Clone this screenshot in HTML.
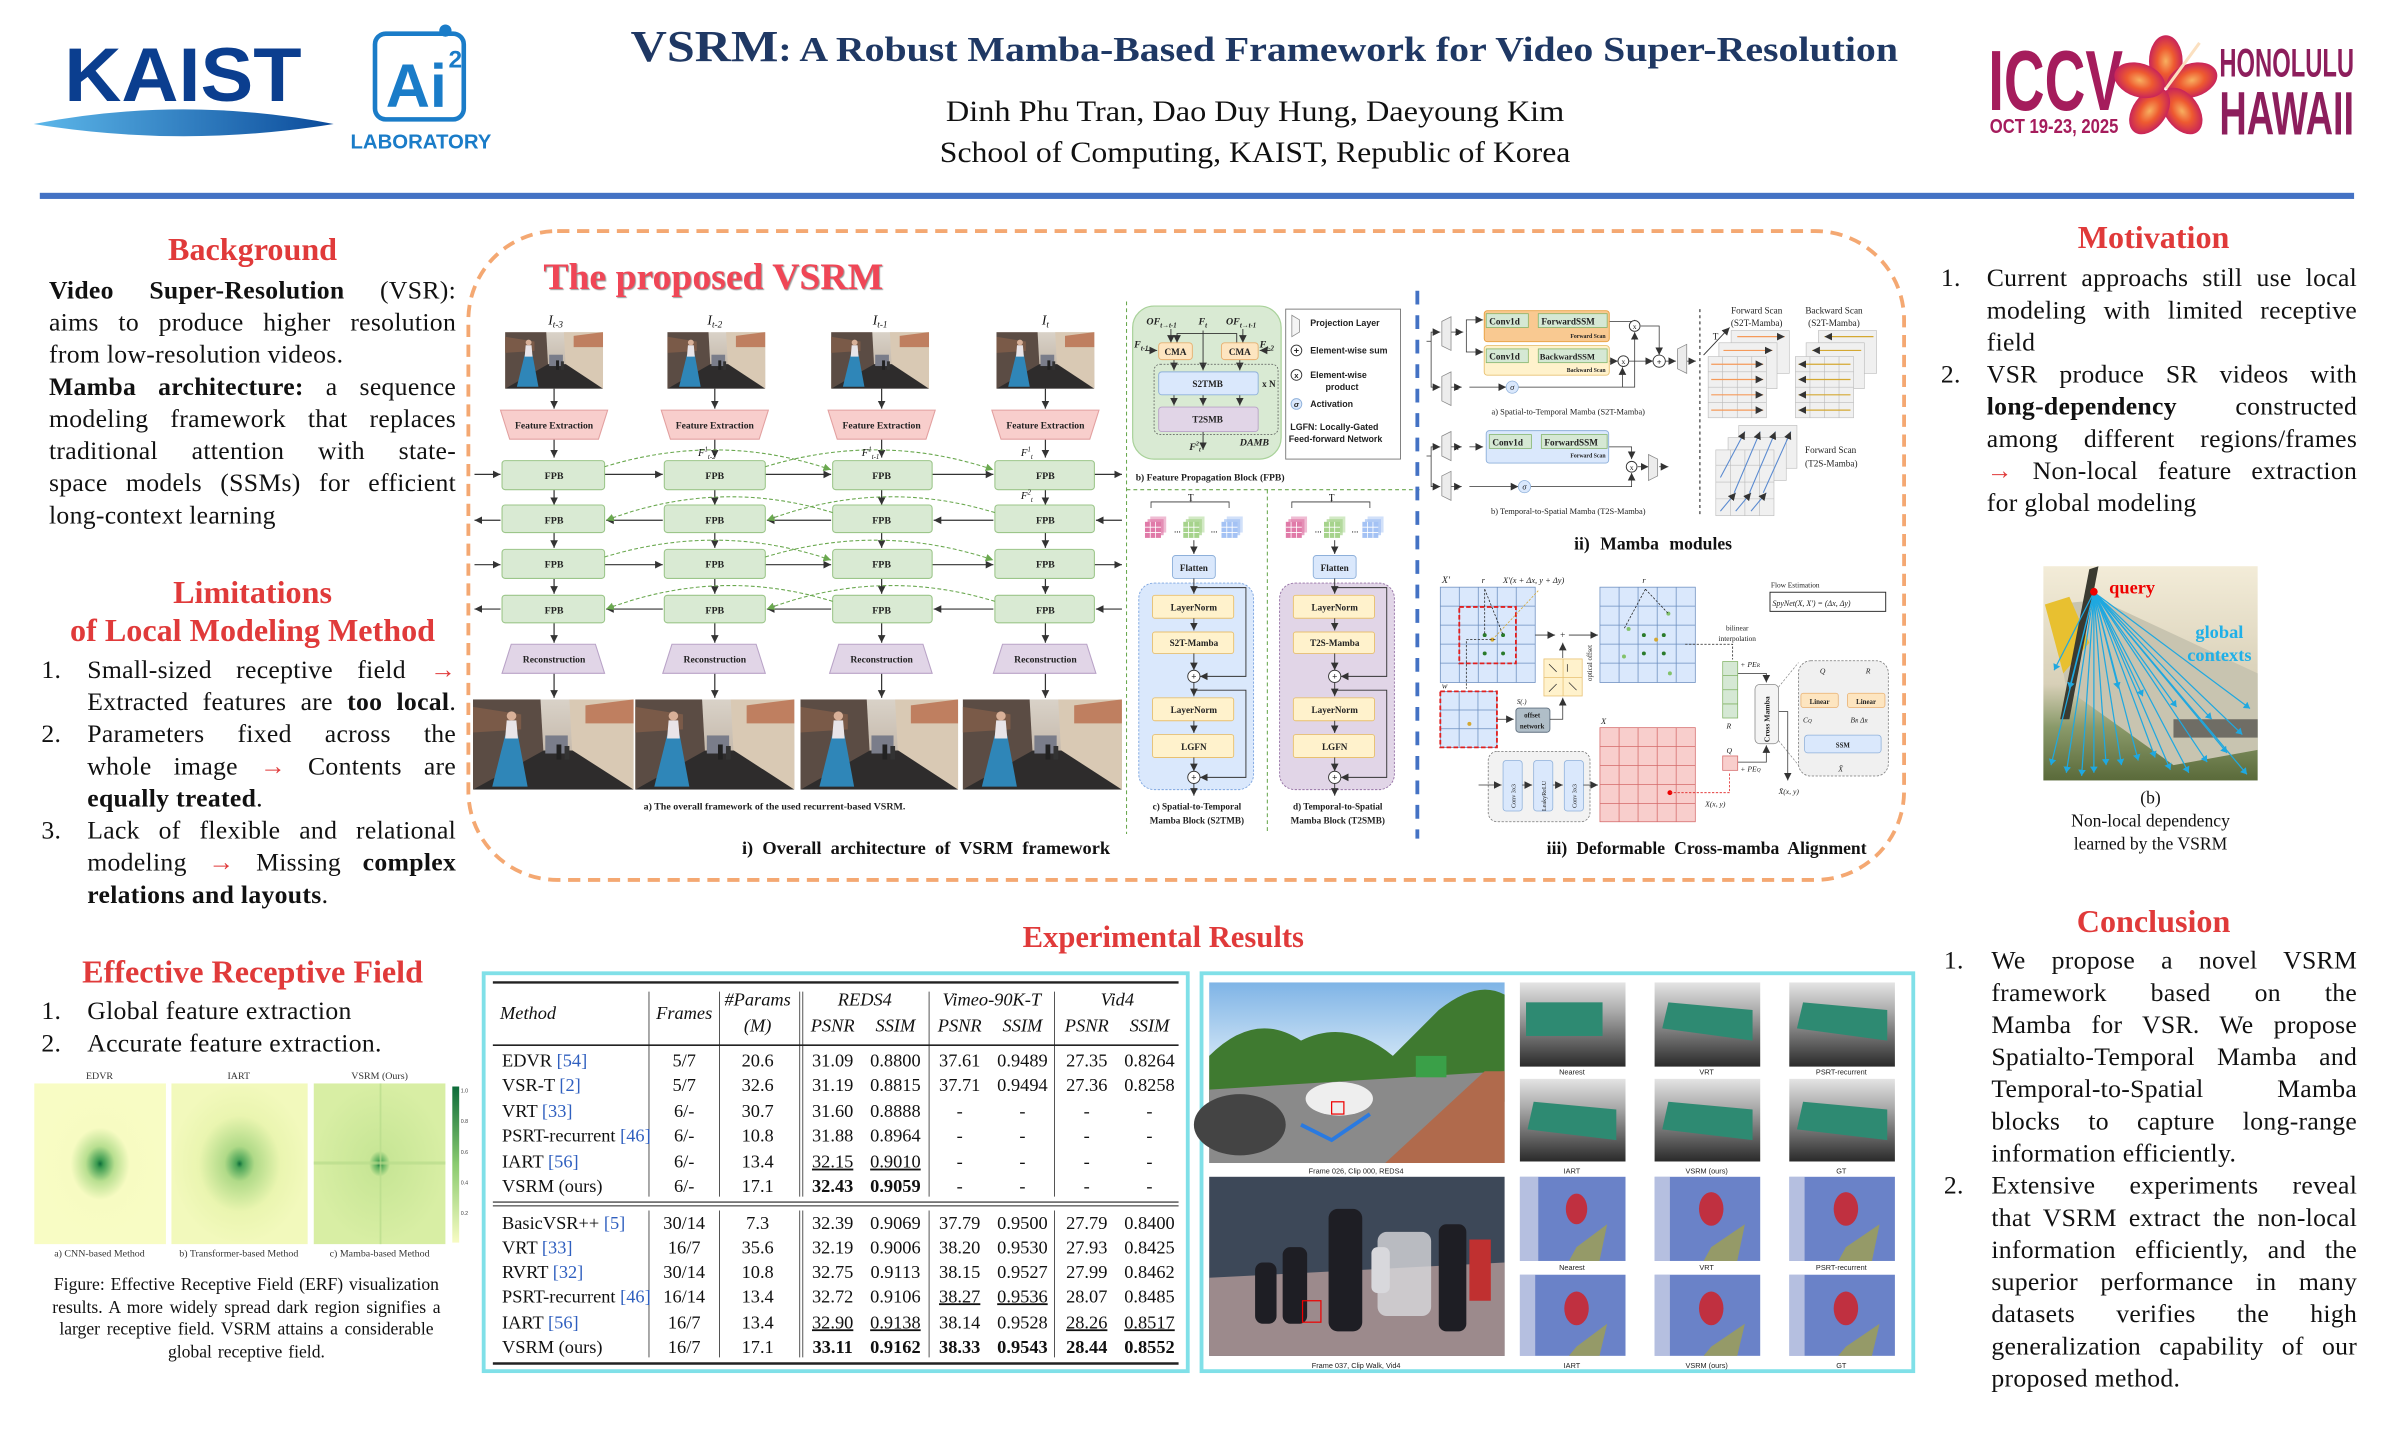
<!DOCTYPE html>
<html><head><meta charset="utf-8"><style>
html,body{margin:0;padding:0;background:#fff;width:2400px;height:1440px;overflow:hidden}
#r{position:absolute;left:0;top:0;width:1568px;height:941px;transform:scale(1.530612,1.530287);transform-origin:0 0}
svg{display:block;position:absolute;left:0;top:0}
.s{font-family:"Liberation Serif",serif}
.a{font-family:"Liberation Sans",sans-serif}
.col{position:absolute;font:16.8px/21px "Liberation Serif",serif;color:#111;letter-spacing:0.2px}
.col div{white-space:nowrap;height:21px}
.j{text-align:justify;text-align-last:justify}
.n{position:absolute;left:-30px}
.red{color:#e03a3a}
</style></head><body><div id="r">
<svg width="1568" height="941" viewBox="0 0 1568 941" xmlns="http://www.w3.org/2000/svg">
<defs>
<marker id="ar" markerWidth="6" markerHeight="6" refX="5" refY="3" orient="auto" markerUnits="userSpaceOnUse"><path d="M0,0.5 L5,3 L0,5.5z" fill="#333"/></marker>
<marker id="ag" markerWidth="6" markerHeight="6" refX="5" refY="3" orient="auto" markerUnits="userSpaceOnUse"><path d="M0,0.5 L5,3 L0,5.5z" fill="#6aa84f"/></marker>
<marker id="ab" markerWidth="5" markerHeight="5" refX="4" refY="2.5" orient="auto" markerUnits="userSpaceOnUse"><path d="M0,0 L4,2.5 L0,5z" fill="#1fa8e0"/></marker>
<linearGradient id="lens" x1="0" x2="1"><stop offset="0" stop-color="#5db8ea"/><stop offset="1" stop-color="#0a4a9a"/></linearGradient>
<radialGradient id="hib" cx="0.5" cy="0.5" r="0.5"><stop offset="0" stop-color="#f7b060"/><stop offset="0.5" stop-color="#ee5a30"/><stop offset="1" stop-color="#c8245a"/></radialGradient>
<linearGradient id="skyA" x1="0" y1="0" x2="0" y2="1"><stop offset="0" stop-color="#d9d2c8"/><stop offset="1" stop-color="#b7a898"/></linearGradient>
<radialGradient id="erf1" cx="0.5" cy="0.5" r="0.5"><stop offset="0" stop-color="#0d6b3a"/><stop offset="0.05" stop-color="#3a9a50"/><stop offset="0.22" stop-color="#b8df90"/><stop offset="0.45" stop-color="#f7fbc2"/><stop offset="1" stop-color="#f8fcc4"/></radialGradient>
<radialGradient id="erf2" cx="0.5" cy="0.5" r="0.5"><stop offset="0" stop-color="#0d6b3a"/><stop offset="0.05" stop-color="#4aa458"/><stop offset="0.22" stop-color="#b0da88"/><stop offset="0.6" stop-color="#eaf5b0"/><stop offset="1" stop-color="#f2f9bc"/></radialGradient>
<radialGradient id="erf3" cx="0.5" cy="0.5" r="0.5"><stop offset="0" stop-color="#0d6b3a"/><stop offset="0.05" stop-color="#5aaf5c"/><stop offset="0.16" stop-color="#c8e696"/><stop offset="1" stop-color="#d8eea4"/></radialGradient>
<linearGradient id="cbar" x1="0" y1="1" x2="0" y2="0"><stop offset="0" stop-color="#f7fbc2"/><stop offset="0.5" stop-color="#8bcb70"/><stop offset="1" stop-color="#0d6b3a"/></linearGradient>
<linearGradient id="plane" x1="0" y1="0" x2="0" y2="1"><stop offset="0" stop-color="#f3ecd8"/><stop offset="0.55" stop-color="#d8d0b8"/><stop offset="0.75" stop-color="#8a9a6a"/><stop offset="1" stop-color="#5a6a3a"/></linearGradient>
<linearGradient id="sky1" x1="0" y1="0" x2="0" y2="1"><stop offset="0" stop-color="#7fb4e6"/><stop offset="0.5" stop-color="#dcecf8"/><stop offset="1" stop-color="#c8d8e0"/></linearGradient>
<linearGradient id="plt" x1="0" y1="0" x2="0" y2="1"><stop offset="0" stop-color="#e4e4e4"/><stop offset="0.35" stop-color="#a9a9a9"/><stop offset="1" stop-color="#2a2a2a"/></linearGradient>
<symbol id="alley" viewBox="0 0 100 60" preserveAspectRatio="none">
<rect width="100" height="60" fill="url(#skyA)"/>
<polygon points="0,0 42,0 44,38 0,60" fill="#5b4c44"/>
<polygon points="0,5 30,10 30,20 0,22" fill="#7a5a48"/>
<polygon points="60,0 100,0 100,60 62,40" fill="#d9c9b4"/>
<polygon points="70,4 100,0 100,16 70,16" fill="#b4603c" opacity="0.7"/>
<polygon points="44,34 62,34 100,60 0,60" fill="#2e2c2c"/>
<rect x="45" y="24" width="14" height="12" fill="#7a7d8a"/>
<polygon points="20,24 28,24 34,58 12,58" fill="#2f86b8"/>
<polygon points="21,14 27,14 28,26 20,26" fill="#e8e4e8"/>
<circle cx="24" cy="11" r="3" fill="#d8b098"/>
<rect x="52" y="30" width="3" height="10" fill="#222"/><rect x="57" y="31" width="3" height="9" fill="#333"/>
</symbol>
<symbol id="cube" viewBox="0 0 16 16"><rect x="4" y="0" width="12" height="12" fill="currentColor" opacity="0.5"/><rect x="2" y="2" width="12" height="12" fill="currentColor" opacity="0.7"/><rect x="0" y="4" width="12" height="12" fill="currentColor"/><path d="M4,4V16M8,4V16M0,8H12M0,12H12" stroke="#fff" stroke-width="0.6"/></symbol>
</defs>

<!-- HEADER -->
<text x="42" y="66" class="a" font-size="50" font-weight="bold" fill="#0b3e8f" textLength="155" lengthAdjust="spacingAndGlyphs">KAIST</text>
<path d="M22,81 Q120,62 218,81 Q120,97 22,81z" fill="url(#lens)"/>
<rect x="245" y="22" width="58" height="56" rx="7" fill="none" stroke="#1a7cc8" stroke-width="3"/>
<circle cx="291" cy="20" r="4" fill="#1a7cc8"/>
<text x="252" y="70" class="a" font-size="40" font-weight="bold" fill="#1a7cc8">Ai</text>
<text x="293" y="44" class="a" font-size="16" font-weight="bold" fill="#1a7cc8">2</text>
<text x="229" y="97" class="a" font-size="13" font-weight="bold" fill="#1a7cc8" textLength="92" lengthAdjust="spacingAndGlyphs">LABORATORY</text>

<text x="412" y="40" class="s" font-weight="bold" fill="#1f3864" textLength="828" lengthAdjust="spacingAndGlyphs"><tspan font-size="29">VSRM</tspan><tspan font-size="23">: A Robust Mamba-Based Framework for Video Super-Resolution</tspan></text>
<text x="618" y="79" class="s" font-size="19" fill="#111" textLength="404" lengthAdjust="spacingAndGlyphs">Dinh Phu Tran, Dao Duy Hung, Daeyoung Kim</text>
<text x="614" y="106" class="s" font-size="19" fill="#111" textLength="412" lengthAdjust="spacingAndGlyphs">School of Computing, KAIST, Republic of Korea</text>

<text x="1299" y="72" class="a" font-size="56" font-weight="bold" fill="#a51c5c" textLength="88" lengthAdjust="spacingAndGlyphs">ICCV</text>
<text x="1300" y="87" class="a" font-size="13" font-weight="bold" fill="#a51c5c" textLength="84" lengthAdjust="spacingAndGlyphs">OCT 19-23, 2025</text>
<g transform="translate(1415,58)">
<ellipse cx="0" cy="-18" rx="11" ry="17" fill="url(#hib)"/>
<ellipse cx="0" cy="-18" rx="11" ry="17" fill="url(#hib)" transform="rotate(72)"/>
<ellipse cx="0" cy="-18" rx="11" ry="17" fill="url(#hib)" transform="rotate(144)"/>
<ellipse cx="0" cy="-18" rx="11" ry="17" fill="url(#hib)" transform="rotate(216)"/>
<ellipse cx="0" cy="-18" rx="11" ry="17" fill="url(#hib)" transform="rotate(288)"/>
<path d="M0,0 L22,-30" stroke="#fbe0c0" stroke-width="2"/>
</g>
<text x="1450" y="50" class="a" font-size="26" font-weight="bold" fill="#8d1e5c" textLength="88" lengthAdjust="spacingAndGlyphs">HONOLULU</text>
<text x="1450" y="88" class="a" font-size="40" font-weight="bold" fill="#8d1e5c" textLength="88" lengthAdjust="spacingAndGlyphs">HAWAII</text>

<rect x="26" y="126" width="1512" height="4" fill="#4472c4"/>

<g class="s" font-size="21" font-weight="bold" fill="#e03a3a" text-anchor="middle">
<text x="165" y="170">Background</text>
<text x="165" y="394">Limitations</text>
<text x="165" y="419">of Local Modeling  Method</text>
<text x="165" y="642">Effective Receptive Field</text>
<text x="1407" y="162">Motivation</text>
<text x="1407" y="609">Conclusion</text>
</g>

<!-- ERF -->
<g class="s" font-size="6.5" fill="#333" text-anchor="middle">
<text x="65" y="705">EDVR</text><text x="156" y="705">IART</text><text x="248" y="705">VSRM (Ours)</text>
<text x="65" y="821">a) CNN-based Method</text><text x="156" y="821">b) Transformer-based Method</text><text x="248" y="821">c) Mamba-based Method</text>
</g>
<rect x="22.4" y="708" width="86" height="105" fill="url(#erf1)"/>
<rect x="112" y="708" width="89" height="105" fill="url(#erf2)"/>
<rect x="205" y="708" width="86" height="105" fill="url(#erf3)"/>
<rect x="248" y="708" width="1.2" height="105" fill="#b8dc8c" opacity="0.7"/><rect x="205" y="759" width="86" height="2" fill="#b8dc8c" opacity="0.7"/>
<rect x="295.5" y="710" width="4.5" height="102" fill="url(#cbar)"/>
<g class="a" font-size="3.5" fill="#444"><text x="301" y="714">1.0</text><text x="301" y="734">0.8</text><text x="301" y="754">0.6</text><text x="301" y="774">0.4</text><text x="301" y="794">0.2</text></g>
<g class="s" font-size="11.5" fill="#111" text-anchor="middle">
<text x="161" y="843" word-spacing="1">Figure: Effective Receptive Field (ERF) visualization</text>
<text x="161" y="858" word-spacing="1.5">results. A more widely  spread dark region signifies  a</text>
<text x="161" y="872" word-spacing="1.5">larger receptive field. VSRM attains a considerable</text>
<text x="161" y="887" word-spacing="1">global receptive field.</text>
</g>

<!-- plane image -->
<rect x="1335" y="370" width="140" height="140" fill="url(#plane)"/>
<polygon points="1340,395 1372,392 1475,440 1475,490 1420,500 1350,450" fill="#c8c4b0"/>
<polygon points="1336,395 1352,390 1365,420 1348,440" fill="#e8c030"/>
<polygon points="1365,372 1371,370 1352,470 1346,470" fill="#3a3a30"/>
<rect x="1420" y="470" width="55" height="12" fill="#333" opacity="0.6"/>
<g stroke="#1fa8e0" stroke-width="0.8" marker-end="url(#ab)">
<path d="M1368,387 L1342,438"/><path d="M1368,387 L1352,450"/><path d="M1368,387 L1340,500"/><path d="M1368,387 L1350,505"/><path d="M1368,387 L1360,507"/><path d="M1368,387 L1368,505"/><path d="M1368,387 L1376,500"/><path d="M1368,387 L1386,500"/><path d="M1368,387 L1397,497"/><path d="M1368,387 L1408,495"/><path d="M1368,387 L1418,503"/><path d="M1368,387 L1430,505"/><path d="M1368,387 L1442,498"/><path d="M1368,387 L1455,492"/><path d="M1368,387 L1465,480"/><path d="M1368,387 L1468,506"/><path d="M1368,387 L1470,463"/><path d="M1368,387 L1445,470"/><path d="M1368,387 L1422,462"/><path d="M1368,387 L1400,455"/><path d="M1368,387 L1384,450"/>
</g>
<circle cx="1368" cy="386.7" r="2.5" fill="#e00"/>
<text x="1378" y="388" class="s" font-size="12" font-weight="bold" fill="#e00">query</text>
<text x="1450" y="417" class="s" font-size="12" font-weight="bold" fill="#1fb0e8" text-anchor="middle">global</text>
<text x="1450" y="432" class="s" font-size="12" font-weight="bold" fill="#1fb0e8" text-anchor="middle">contexts</text>
<g class="s" font-size="11.5" fill="#111" text-anchor="middle"><text x="1405" y="525">(b)</text><text x="1405" y="540">Non-local dependency</text><text x="1405" y="555">learned by the VSRM</text></g>

<!-- CENTER BOX -->
<rect x="306" y="151" width="938" height="424" rx="58" fill="none" stroke="#f4a872" stroke-width="2.5" stroke-dasharray="8,5"/>
<text x="355" y="189" class="s" font-size="24" font-weight="bold" fill="#f04656" textLength="222" lengthAdjust="spacingAndGlyphs" style="text-shadow:1px 1px 1px #999">The proposed VSRM</text>

<g class="s" font-style="italic" font-size="9" fill="#111" text-anchor="middle">
<text x="363" y="212">I<tspan font-size="6" dy="2">t-3</tspan></text>
<text x="467" y="212">I<tspan font-size="6" dy="2">t-2</tspan></text>
<text x="575" y="212">I<tspan font-size="6" dy="2">t-1</tspan></text>
<text x="683" y="212">I<tspan font-size="6" dy="2">t</tspan></text>
</g>
<use href="#alley" x="330" y="217" width="64" height="37"/>
<use href="#alley" x="436" y="217" width="64" height="37"/>
<use href="#alley" x="543" y="217" width="64" height="37"/>
<use href="#alley" x="651" y="217" width="64" height="37"/>
<g stroke="#333" stroke-width="0.8" marker-end="url(#ar)" fill="none">
<path d="M362,254V267"/><path d="M467,254V267"/><path d="M576,254V267"/><path d="M683,254V267"/>
<path d="M362,287V299"/><path d="M467,287V299"/><path d="M576,287V299"/><path d="M683,287V299"/>
<path d="M362,320V330"/><path d="M467,320V330"/><path d="M576,320V330"/><path d="M683,320V330"/>
<path d="M362,348V358"/><path d="M467,348V358"/><path d="M576,348V358"/><path d="M683,348V358"/>
<path d="M362,378V388"/><path d="M467,378V388"/><path d="M576,378V388"/><path d="M683,378V388"/>
<path d="M362,407V420"/><path d="M467,407V420"/><path d="M576,407V420"/><path d="M683,407V420"/>
<path d="M362,440V456"/><path d="M467,440V456"/><path d="M576,440V456"/><path d="M683,440V456"/>
<path d="M310,310H327"/><path d="M395,310H433"/><path d="M500,310H543"/><path d="M609,310H649"/><path d="M715,310H733"/>
<path d="M733,340H716"/><path d="M649,340H610"/><path d="M543,340H501"/><path d="M433,340H396"/><path d="M327,340H310"/>
<path d="M310,369H327"/><path d="M395,369H433"/><path d="M500,369H543"/><path d="M609,369H649"/><path d="M715,369H733"/>
<path d="M733,398H716"/><path d="M649,398H610"/><path d="M543,398H501"/><path d="M433,398H396"/><path d="M327,398H310"/>
</g>
<g fill="#f8cecc" stroke="#e2a0a0" stroke-width="0.7">
<polygon points="327,268 397,268 391,287 333,287"/><polygon points="432,268 502,268 496,287 438,287"/><polygon points="541,268 611,268 605,287 547,287"/><polygon points="648,268 718,268 712,287 654,287"/>
</g>
<g class="s" font-size="6.3" font-weight="bold" fill="#222" text-anchor="middle">
<text x="362" y="280">Feature Extraction</text><text x="467" y="280">Feature Extraction</text><text x="576" y="280">Feature Extraction</text><text x="683" y="280">Feature Extraction</text>
</g>
<g fill="#d9ead3" stroke="#9cc68a" stroke-width="0.7">
<rect x="328" y="301" width="67" height="19" rx="2"/><rect x="434" y="301" width="66" height="19" rx="2"/><rect x="544" y="301" width="65" height="19" rx="2"/><rect x="650" y="301" width="65" height="19" rx="2"/>
<rect x="328" y="330" width="67" height="18" rx="2"/><rect x="434" y="330" width="66" height="18" rx="2"/><rect x="544" y="330" width="65" height="18" rx="2"/><rect x="650" y="330" width="65" height="18" rx="2"/>
<rect x="328" y="359" width="67" height="19" rx="2"/><rect x="434" y="359" width="66" height="19" rx="2"/><rect x="544" y="359" width="65" height="19" rx="2"/><rect x="650" y="359" width="65" height="19" rx="2"/>
<rect x="328" y="389" width="67" height="18" rx="2"/><rect x="434" y="389" width="66" height="18" rx="2"/><rect x="544" y="389" width="65" height="18" rx="2"/><rect x="650" y="389" width="65" height="18" rx="2"/>
</g>
<g class="s" font-size="6.5" font-weight="bold" fill="#222" text-anchor="middle">
<text x="362" y="313">FPB</text><text x="467" y="313">FPB</text><text x="576" y="313">FPB</text><text x="683" y="313">FPB</text>
<text x="362" y="342">FPB</text><text x="467" y="342">FPB</text><text x="576" y="342">FPB</text><text x="683" y="342">FPB</text>
<text x="362" y="371">FPB</text><text x="467" y="371">FPB</text><text x="576" y="371">FPB</text><text x="683" y="371">FPB</text>
<text x="362" y="401">FPB</text><text x="467" y="401">FPB</text><text x="576" y="401">FPB</text><text x="683" y="401">FPB</text>
</g>
<g fill="none" stroke="#6aa84f" stroke-width="0.7" stroke-dasharray="2.5,1.5" marker-end="url(#ag)">
<path d="M395,305 Q470,282 543,307"/><path d="M500,305 Q575,282 649,307"/>
<path d="M544,335 Q470,312 396,340"/><path d="M650,335 Q575,312 501,340"/>
<path d="M395,364 Q470,341 543,366"/><path d="M500,364 Q575,341 649,366"/>
<path d="M544,393 Q470,370 396,398"/><path d="M650,393 Q575,370 501,398"/>
</g>
<g class="s" font-style="italic" font-size="7" fill="#111">
<text x="456" y="298">F<tspan font-size="4.5" dy="-3">1</tspan><tspan font-size="4.5" dy="5">t-2</tspan></text>
<text x="563" y="298">F<tspan font-size="4.5" dy="-3">1</tspan><tspan font-size="4.5" dy="5">t-1</tspan></text>
<text x="667" y="298">F<tspan font-size="4.5" dy="-3">1</tspan><tspan font-size="4.5" dy="5">t</tspan></text>
<text x="667" y="326">F<tspan font-size="4.5" dy="-3">2</tspan><tspan font-size="4.5" dy="5">t</tspan></text>
</g>
<g fill="#e1d5e7" stroke="#b9a3c7" stroke-width="0.7">
<polygon points="334,421 389,421 395,440 328,440"/><polygon points="439,421 494,421 500,440 433,440"/><polygon points="548,421 603,421 609,440 542,440"/><polygon points="655,421 710,421 716,440 649,440"/>
</g>
<g class="s" font-size="6.3" font-weight="bold" fill="#222" text-anchor="middle">
<text x="362" y="433">Reconstruction</text><text x="467" y="433">Reconstruction</text><text x="576" y="433">Reconstruction</text><text x="683" y="433">Reconstruction</text>
</g>
<use href="#alley" x="309" y="457" width="105" height="59"/>
<use href="#alley" x="415" y="457" width="104" height="59"/>
<use href="#alley" x="523" y="457" width="103" height="59"/>
<use href="#alley" x="629" y="457" width="104" height="59"/>
<text x="506" y="529" class="s" font-size="6.5" font-weight="bold" fill="#222" text-anchor="middle">a) The overall framework of the used recurrent-based VSRM.</text>
<text x="605" y="558" class="s" font-size="12" font-weight="bold" fill="#111" text-anchor="middle" word-spacing="3">i) Overall architecture of VSRM framework</text>

<!-- FPB panel -->
<path d="M736,197V545M736,320H928M828,320V545" stroke="#6aa84f" stroke-width="0.7" stroke-dasharray="2.5,2" fill="none"/>
<rect x="740" y="200" width="97" height="100" rx="14" fill="#d9ead3" stroke="#a9d29a" stroke-width="0.8"/>
<g stroke="#333" stroke-width="0.6" fill="none" marker-end="url(#ar)">
<path d="M765,215V224"/><path d="M812,215V224"/><path d="M786,216V242"/><path d="M786,218H808V224M786,218H769V224"/>
<path d="M748,229H756"/><path d="M830,229H823"/>
<path d="M767,235V242"/><path d="M810,235V242"/>
<path d="M767,258V265"/><path d="M786,258V265"/><path d="M810,258V265"/><path d="M786,281V294"/>
</g>
<rect x="757" y="224" width="22" height="11" rx="2" fill="#fde5c0" stroke="#e8b070" stroke-width="0.6"/>
<rect x="798" y="224" width="24" height="11" rx="2" fill="#fde5c0" stroke="#e8b070" stroke-width="0.6"/>
<rect x="754" y="238" width="81" height="46" rx="4" fill="none" stroke="#555" stroke-width="0.5" stroke-dasharray="1.2,1"/>
<rect x="757" y="243" width="65" height="15" rx="2" fill="#dae8fc" stroke="#8eb0da" stroke-width="0.6"/>
<rect x="757" y="266" width="65" height="16" rx="2" fill="#e1d5e7" stroke="#b9a3c7" stroke-width="0.6"/>
<g class="s" font-weight="bold" fill="#222" font-size="6" text-anchor="middle">
<text x="768" y="232">CMA</text><text x="810" y="232">CMA</text><text x="789" y="253">S2TMB</text><text x="789" y="276">T2SMB</text><text x="829" y="253">x N</text>
</g>
<g class="s" font-weight="bold" font-style="italic" fill="#222" font-size="6.5">
<text x="749" y="212">OF<tspan font-size="4.5" dy="2">t→t-1</tspan></text><text x="783" y="212">F<tspan font-size="4.5" dy="2">t</tspan></text><text x="801" y="212">OF<tspan font-size="4.5" dy="2">t→t-1</tspan></text>
<text x="741" y="227">F<tspan font-size="4.5" dy="2">t-1</tspan></text><text x="823" y="227">F<tspan font-size="4.5" dy="2">t-2</tspan></text>
<text x="777" y="294">F<tspan font-size="4" dy="-3">2</tspan><tspan font-size="4" dy="4">t</tspan></text><text x="810" y="291">DAMB</text>
</g>
<rect x="840" y="202" width="75" height="98" fill="#fff" stroke="#777" stroke-width="0.6"/>
<polygon points="844,206 849,209 849,217 844,220" fill="#f4f4f4" stroke="#888" stroke-width="0.5"/>
<g fill="#fff" stroke="#333" stroke-width="0.6"><circle cx="847" cy="229" r="3.5"/><circle cx="847" cy="245" r="3.5"/><circle cx="847" cy="264" r="3.5" fill="#dae8fc" stroke="#8eb0da"/></g>
<g class="a" font-size="5.8" font-weight="bold" fill="#222">
<text x="847" y="231" text-anchor="middle" font-size="6">+</text><text x="847" y="247" text-anchor="middle" font-size="5">x</text><text x="847" y="266" text-anchor="middle" font-size="5" font-style="italic">σ</text>
<text x="856" y="213">Projection Layer</text><text x="856" y="231">Element-wise sum</text><text x="856" y="247">Element-wise</text><text x="866" y="255">product</text><text x="856" y="266">Activation</text><text x="843" y="281">LGFN: Locally-Gated</text><text x="842" y="289">Feed-forward Network</text>
</g>
<text x="742" y="314" class="s" font-size="6.3" font-weight="bold" fill="#222">b) Feature Propagation Block (FPB)</text>

<!-- c) d) blocks -->
<g>
<path d="M752,332V328H803V332M778,328V325" stroke="#333" stroke-width="0.5" fill="none"/>
<text x="778" y="327" class="s" font-size="6" text-anchor="middle">T</text>
<use href="#cube" x="748" y="337" width="14" height="15" color="#e07aa8"/>
<use href="#cube" x="773" y="337" width="14" height="15" color="#a6d38c"/>
<use href="#cube" x="798" y="337" width="14" height="15" color="#a4c2f4"/>
<text x="767" y="348" font-size="6">...</text><text x="791" y="348" font-size="6">...</text>
<rect x="744" y="381" width="75" height="135" rx="10" fill="#dae8fc" stroke="#7ea6e0" stroke-width="0.6" stroke-dasharray="1.5,1"/>
<rect x="766" y="363" width="28" height="15" rx="2" fill="#dae8fc" stroke="#8eb0da" stroke-width="0.6"/>
<g fill="#fff2cc" stroke="#e8c070" stroke-width="0.6">
<rect x="753" y="389" width="53" height="15" rx="1.5"/><rect x="753" y="413" width="53" height="14" rx="1.5"/><rect x="753" y="456" width="53" height="15" rx="1.5"/><rect x="753" y="480" width="53" height="15" rx="1.5"/>
</g>
<g stroke="#333" stroke-width="0.6" fill="none" marker-end="url(#ar)">
<path d="M780,353V362"/><path d="M780,378V388"/><path d="M780,404V412"/><path d="M780,427V438"/><path d="M780,446V455"/><path d="M780,471V479"/><path d="M780,495V504"/><path d="M780,512V520"/>
<path d="M780,384H814V442H784"/><path d="M780,451H814V508H784"/>
</g>
<g fill="#fff" stroke="#333" stroke-width="0.6"><circle cx="780" cy="442" r="4"/><circle cx="780" cy="508" r="4"/></g>
<g class="s" font-size="6" font-weight="bold" fill="#222" text-anchor="middle">
<text x="780" y="444">+</text><text x="780" y="510">+</text>
<text x="780" y="373">Flatten</text><text x="780" y="399">LayerNorm</text><text x="780" y="422">S2T-Mamba</text><text x="780" y="466">LayerNorm</text><text x="780" y="490">LGFN</text>
</g>
</g>
<g transform="translate(92,0)">
<path d="M752,332V328H803V332M778,328V325" stroke="#333" stroke-width="0.5" fill="none"/>
<text x="778" y="327" class="s" font-size="6" text-anchor="middle">T</text>
<use href="#cube" x="748" y="337" width="14" height="15" color="#e07aa8"/>
<use href="#cube" x="773" y="337" width="14" height="15" color="#a6d38c"/>
<use href="#cube" x="798" y="337" width="14" height="15" color="#a4c2f4"/>
<text x="767" y="348" font-size="6">...</text><text x="791" y="348" font-size="6">...</text>
<rect x="744" y="381" width="75" height="135" rx="10" fill="#e1d5e7" stroke="#9673a6" stroke-width="0.6" stroke-dasharray="1.5,1"/>
<rect x="766" y="363" width="28" height="15" rx="2" fill="#dae8fc" stroke="#8eb0da" stroke-width="0.6"/>
<g fill="#fff2cc" stroke="#e8c070" stroke-width="0.6">
<rect x="753" y="389" width="53" height="15" rx="1.5"/><rect x="753" y="413" width="53" height="14" rx="1.5"/><rect x="753" y="456" width="53" height="15" rx="1.5"/><rect x="753" y="480" width="53" height="15" rx="1.5"/>
</g>
<g stroke="#333" stroke-width="0.6" fill="none" marker-end="url(#ar)">
<path d="M780,353V362"/><path d="M780,378V388"/><path d="M780,404V412"/><path d="M780,427V438"/><path d="M780,446V455"/><path d="M780,471V479"/><path d="M780,495V504"/><path d="M780,512V520"/>
<path d="M780,384H814V442H784"/><path d="M780,451H814V508H784"/>
</g>
<g fill="#fff" stroke="#333" stroke-width="0.6"><circle cx="780" cy="442" r="4"/><circle cx="780" cy="508" r="4"/></g>
<g class="s" font-size="6" font-weight="bold" fill="#222" text-anchor="middle">
<text x="780" y="444">+</text><text x="780" y="510">+</text>
<text x="780" y="373">Flatten</text><text x="780" y="399">LayerNorm</text><text x="780" y="422">T2S-Mamba</text><text x="780" y="466">LayerNorm</text><text x="780" y="490">LGFN</text>
</g>
</g>
<g class="s" font-size="6" font-weight="bold" fill="#222" text-anchor="middle">
<text x="782" y="529">c) Spatial-to-Temporal</text><text x="782" y="538">Mamba Block (S2TMB)</text>
<text x="874" y="529">d) Temporal-to-Spatial</text><text x="874" y="538">Mamba Block (T2SMB)</text>
</g>

<path d="M926,190V548" stroke="#4472c4" stroke-width="2.5" stroke-dasharray="9,7"/>

<!-- ii) Mamba modules -->
<g stroke="#333" stroke-width="0.5" fill="none" marker-end="url(#ar)">
<path d="M932,223H935V217H941"/><path d="M935,223V253H941"/>
<path d="M948,217H956"/><path d="M958,217V209H969"/><path d="M958,217V230H969"/>
<path d="M948,253H955"/><path d="M960,253H984"/><path d="M992,253H1068V217"/>
<path d="M1051,210H1068V209"/><path d="M1051,236H1057"/><path d="M1064,236H1080"/><path d="M1060,253V240"/>
<path d="M1088,236H1095"/><path d="M1102,236H1108"/>
<path d="M1072,213H1084V232"/>
<path d="M932,298H935V292H941"/><path d="M935,298V318H941"/><path d="M948,292H955"/><path d="M960,292H969"/><path d="M948,318H955"/><path d="M960,318H992"/><path d="M1000,318H1066V309"/>
<path d="M1051,292H1066V300"/><path d="M1070,305H1077"/><path d="M1084,305H1090"/>
</g>
<g fill="#ececec" stroke="#888" stroke-width="0.5">
<polygon points="942,210 948,207 948,229 942,226"/><polygon points="942,246 948,243 948,265 942,262"/>
<polygon points="1096,228 1102,225 1102,244 1096,241"/>
<polygon points="942,285 948,282 948,301 942,298"/><polygon points="942,311 948,308 948,327 942,324"/>
<polygon points="1077,297 1083,300 1083,311 1077,314"/>
</g>
<rect x="969.7" y="203" width="81.7" height="20.3" rx="2" fill="#f9c991" stroke="#e8a040" stroke-width="0.6"/>
<rect x="969.7" y="225.8" width="81.7" height="19.4" rx="2" fill="#fff2cc" stroke="#e8c070" stroke-width="0.6"/>
<rect x="971" y="281.4" width="80" height="21.2" rx="2" fill="#dae8fc" stroke="#8eb0da" stroke-width="0.6"/>
<g fill="#d5e8d4" stroke="#82b366" stroke-width="0.5">
<rect x="971" y="205" width="27.5" height="9"/><rect x="1005" y="205" width="45" height="9"/>
<rect x="971" y="228" width="27.5" height="9"/><rect x="1005" y="228" width="45" height="9"/>
<rect x="973" y="284" width="27.5" height="9"/><rect x="1007" y="284" width="43" height="9"/>
</g>
<g class="s" font-weight="bold" fill="#222" font-size="6">
<text x="973" y="212">Conv1d</text><text x="1007" y="212">ForwardSSM</text><text x="1049" y="221" font-size="3.8" text-anchor="end">Forward Scan</text>
<text x="973" y="235">Conv1d</text><text x="1006" y="235" font-size="5.6">BackwardSSM</text><text x="1049" y="243" font-size="3.8" text-anchor="end">Backward Scan</text>
<text x="975" y="291">Conv1d</text><text x="1009" y="291">ForwardSSM</text><text x="1049" y="299" font-size="3.8" text-anchor="end">Forward Scan</text>
</g>
<g fill="#fff" stroke="#333" stroke-width="0.6"><circle cx="1068" cy="213" r="3.5"/><circle cx="1060.6" cy="236" r="3.5"/><circle cx="1084" cy="236" r="4"/><circle cx="1066" cy="305" r="3.5"/></g>
<g fill="#dae8fc" stroke="#8eb0da" stroke-width="0.5"><circle cx="988" cy="253" r="4"/><circle cx="996" cy="318" r="4"/></g>
<g class="s" font-size="5.5" fill="#222" text-anchor="middle">
<text x="1068" y="215" font-size="5">x</text><text x="1060.6" y="238" font-size="5">x</text><text x="1084" y="238.5" font-weight="bold">+</text><text x="1066" y="307" font-size="5">x</text>
<text x="988" y="255" font-style="italic">σ</text><text x="996" y="320" font-style="italic">σ</text>
<text x="952" y="219" font-style="italic">x</text><text x="952" y="255" font-style="italic">z</text><text x="952" y="294" font-style="italic">x</text><text x="952" y="320" font-style="italic">z</text>
<text x="1024.6" y="271">a) Spatial-to-Temporal Mamba (S2T-Mamba)</text>
<text x="1024.6" y="336">b) Temporal-to-Spatial Mamba (T2S-Mamba)</text>
</g>
<path d="M1110.6,202V336" stroke="#222" stroke-width="0.7" stroke-dasharray="2,2"/>
<g stroke="#bbb" stroke-width="0.4">
<g fill="#f0f0f0">
<rect x="1131" y="216" width="38" height="28"/><rect x="1123" y="224" width="38" height="30"/><rect x="1116" y="233" width="38" height="40"/>
<rect x="1188" y="216" width="38" height="28"/><rect x="1180" y="224" width="38" height="30"/><rect x="1173" y="233" width="38" height="40"/>
<rect x="1136" y="278" width="38" height="28"/><rect x="1129" y="286" width="38" height="28"/><rect x="1121" y="294" width="38" height="43"/>
</g>
<path d="M1125.5,233V273M1135,233V273M1144.5,233V273M1116,243H1154M1116,253H1154M1116,263H1154"/>
<path d="M1182.5,233V273M1192,233V273M1201.5,233V273M1173,243H1211M1173,253H1211M1173,263H1211"/>
<path d="M1130.5,294V337M1140,294V337M1149.5,294V337M1121,304H1159M1121,315H1159M1121,326H1159"/>
</g>
<g stroke="#f59a5a" stroke-width="0.8" marker-end="url(#ar)">
<path d="M1118,238H1152"/><path d="M1118,248H1152"/><path d="M1118,258H1152"/><path d="M1118,268H1152"/><path d="M1135,220H1166"/><path d="M1126,229H1158"/>
</g>
<g stroke="#d4a832" stroke-width="0.8" marker-end="url(#ar)">
<path d="M1209,238H1175"/><path d="M1209,248H1175"/><path d="M1209,258H1175"/><path d="M1209,268H1175"/><path d="M1224,220H1192"/><path d="M1216,229H1184"/>
</g>
<g stroke="#5a8ad0" stroke-width="0.7" marker-end="url(#ar)">
<path d="M1124,312L1140,282"/><path d="M1133,322L1150,282"/><path d="M1143,322L1160,282"/><path d="M1152,322L1170,282"/><path d="M1124,334L1134,322"/><path d="M1134,334L1144,322"/><path d="M1144,334L1154,322"/>
</g>
<path d="M1113,232L1130,214" stroke="#333" stroke-width="0.6" marker-end="url(#ar)"/>
<g class="s" font-size="6" fill="#222">
<text x="1119" y="222">T</text>
<text x="1147.7" y="205" text-anchor="middle">Forward Scan</text><text x="1147.7" y="213" text-anchor="middle">(S2T-Mamba)</text>
<text x="1198.2" y="205" text-anchor="middle">Backward Scan</text><text x="1198.2" y="213" text-anchor="middle">(S2T-Mamba)</text>
<text x="1179.3" y="296">Forward Scan</text><text x="1179.3" y="305">(T2S-Mamba)</text>
</g>
<text x="1080" y="359" class="s" font-size="11.5" font-weight="bold" fill="#111" text-anchor="middle" word-spacing="4">ii) Mamba modules</text>

<!-- iii) Deformable -->
<g stroke="#6c8ebf" stroke-width="0.5">
<rect x="941" y="383.7" width="62" height="62.3" fill="#dae8fc"/>
<path d="M953.4,383.7V446M965.8,383.7V446M978.2,383.7V446M990.6,383.7V446M941,396.1H1003M941,408.5H1003M941,420.9H1003M941,433.3H1003"/>
<rect x="1045.3" y="383.7" width="62.3" height="62.3" fill="#dae8fc"/>
<path d="M1057.8,383.7V446M1070.2,383.7V446M1082.7,383.7V446M1095.1,383.7V446M1045.3,396.1H1107.6M1045.3,408.5H1107.6M1045.3,420.9H1107.6M1045.3,433.3H1107.6"/>
<rect x="941" y="451.8" width="37" height="36.6" fill="#dae8fc"/>
<path d="M953.3,451.8V488.4M965.6,451.8V488.4M941,464H978M941,476.2H978"/>
</g>
<g stroke="#d46a6a" stroke-width="0.5">
<rect x="1045.3" y="475.5" width="62.3" height="61.5" fill="#f8cecc"/>
<path d="M1057.8,475.5V537M1070.2,475.5V537M1082.7,475.5V537M1095.1,475.5V537M1045.3,487.9H1107.6M1045.3,500.3H1107.6M1045.3,512.7H1107.6M1045.3,525.1H1107.6"/>
</g>
<rect x="953.4" y="396.6" width="37" height="36.9" fill="none" stroke="#e02020" stroke-width="1.2" stroke-dasharray="3,1.5"/>
<rect x="941" y="451.8" width="37" height="36.6" fill="none" stroke="#e02020" stroke-width="1.2" stroke-dasharray="3,1.5"/>
<g fill="#2a7a2a"><circle cx="970" cy="415" r="1.3"/><circle cx="982" cy="415" r="1.3"/><circle cx="970" cy="427" r="1.3"/><circle cx="982" cy="427" r="1.3"/>
<circle cx="1074" cy="415" r="1.3"/><circle cx="1087" cy="415" r="1.3"/><circle cx="1074" cy="427" r="1.3"/><circle cx="1087" cy="427" r="1.3"/></g>
<g fill="#82c26a"><circle cx="1064" cy="411" r="1.3"/><circle cx="1090" cy="401" r="1.3"/><circle cx="1061" cy="429" r="1.3"/><circle cx="1091" cy="440" r="1.3"/></g>
<g fill="#d4a832"><circle cx="975" cy="418" r="1.3"/><circle cx="1082" cy="418" r="1.3"/><circle cx="960" cy="473" r="1.3"/></g>
<circle cx="1091" cy="518" r="1.6" fill="#e00"/>
<g stroke="#222" stroke-width="0.5" fill="none" stroke-dasharray="1.5,1">
<path d="M970,385L970,415M970,385L982,415"/><path d="M1075,385L1061,411M1075,385L1090,401"/><path d="M977,418H958V450"/>
<path d="M1101,421H1132V431"/>
</g>
<path d="M975,418L1005,386" stroke="#d4a832" stroke-width="0.5" stroke-dasharray="1.5,1"/>
<path d="M1091,518H1130V505" stroke="#e02020" stroke-width="0.5" stroke-dasharray="1.5,1" fill="none"/>
<rect x="1008.7" y="430.6" width="25" height="24.2" fill="#fff2cc" stroke="#e8c070" stroke-width="0.5"/>
<path d="M1021.2,430.6V454.8M1008.7,442.7H1033.7" stroke="#e8c070" stroke-width="0.5"/>
<g stroke="#333" stroke-width="0.5"><path d="M1012,434L1017,439M1024,439V434M1017,447L1012,452M1025,446L1030,451"/></g>
<rect x="990.4" y="462.7" width="22.2" height="15.8" rx="2" fill="#b0bec8" stroke="#607080" stroke-width="0.6"/>
<rect x="972.3" y="491" width="66.5" height="46" rx="6" fill="#f2f2f2" stroke="#777" stroke-width="0.5" stroke-dasharray="1.5,1"/>
<g fill="#dae8fc" stroke="#8eb0da" stroke-width="0.5"><rect x="982" y="497" width="12.5" height="33" rx="2"/><rect x="1002" y="497" width="12.5" height="33" rx="2"/><rect x="1022" y="497" width="12.5" height="33" rx="2"/></g>
<g stroke="#333" stroke-width="0.5" fill="none" marker-end="url(#ar)">
<path d="M1003,415H1016"/><path d="M1025,415H1044"/><path d="M1021,430V420"/><path d="M978,470H989"/><path d="M1012.6,470H1021V456"/>
<path d="M1135,440H1154V446"/><path d="M1135,498H1154V487"/><path d="M1162,465H1168V510"/>
<path d="M1190,436V452"/><path d="M1220,436V452"/><path d="M1190,462V479"/><path d="M1220,462V479"/><path d="M1204,492V499"/>
<path d="M966,513H981"/><path d="M994.5,513H1001"/><path d="M1014.5,513H1021"/><path d="M1034.5,513H1044"/>
</g>
<rect x="1125.5" y="432.3" width="9.8" height="36.9" fill="#d5e8d4" stroke="#82b366" stroke-width="0.5"/>
<path d="M1125.5,441.5H1135.3M1125.5,450.7H1135.3M1125.5,460H1135.3" stroke="#82b366" stroke-width="0.5"/>
<rect x="1125.5" y="494" width="9.8" height="9.4" fill="#f8cecc" stroke="#d46a6a" stroke-width="0.5"/>
<rect x="1146.6" y="447.3" width="15.4" height="38.7" rx="3" fill="#f4f4f4" stroke="#888" stroke-width="0.5"/>
<rect x="1175" y="431.8" width="58.7" height="75.3" rx="8" fill="#f0f0f0" stroke="#777" stroke-width="0.5" stroke-dasharray="1.5,1"/>
<path d="M1162,449L1175,433M1162,484L1175,500" stroke="#777" stroke-width="0.4" stroke-dasharray="1.5,1"/>
<rect x="1176.6" y="453" width="24.4" height="9.3" rx="1.5" fill="#fde5c0" stroke="#e8b070" stroke-width="0.5"/>
<rect x="1207" y="453" width="24.5" height="9.3" rx="1.5" fill="#fde5c0" stroke="#e8b070" stroke-width="0.5"/>
<rect x="1179" y="480.4" width="50" height="11.6" rx="2" fill="#dae8fc" stroke="#8eb0da" stroke-width="0.5"/>
<rect x="1156.4" y="387" width="75.6" height="12.5" fill="#fff" stroke="#222" stroke-width="0.6"/>
<g class="s" font-size="5.5" fill="#222">
<text x="942" y="381" font-style="italic" font-size="6.5">X'</text><text x="968" y="381" font-style="italic">r</text><text x="982" y="381" font-style="italic">X'(x + Δx, y + Δy)</text>
<text x="1073" y="381" font-style="italic">r</text><text x="942" y="450" font-style="italic">w</text><text x="1046" y="473" font-style="italic">X</text>
<text x="1001" y="469" text-anchor="middle" font-size="4.5" font-weight="bold">offset</text><text x="1001" y="476" text-anchor="middle" font-size="4.5" font-weight="bold">network</text>
<text x="991" y="460" font-size="4.5" font-style="italic">S(.)</text>
<text x="1021" y="417" text-anchor="middle" font-size="6">+</text>
<text x="1135" y="412" text-anchor="middle" font-size="4.8">bilinear</text><text x="1135" y="419" text-anchor="middle" font-size="4.8">interpolation</text>
<text x="1157" y="384" font-size="4.8">Flow Estimation</text><text x="1158" y="396" font-size="5.2" font-style="italic">SpyNet(X, X') = (Δx, Δy)</text>
<text x="1137" y="436" font-size="5" font-style="italic">+ PE<tspan font-size="3.5">R</tspan></text><text x="1137" y="504" font-size="5" font-style="italic">+ PE<tspan font-size="3.5">Q</tspan></text>
<text x="1128" y="476" font-size="5" font-style="italic">R</text><text x="1128" y="492" font-size="5" font-style="italic">Q</text>
<text x="1114" y="527" font-size="5" font-style="italic">X(x, y)</text><text x="1162" y="519" font-size="5" font-style="italic">X̄(x, y)</text>
<text x="1189" y="440" font-size="5" font-style="italic">Q</text><text x="1219" y="440" font-size="5" font-style="italic">R</text>
<text x="1188.8" y="460" font-size="4.5" font-weight="bold" text-anchor="middle">Linear</text><text x="1219.2" y="460" font-size="4.5" font-weight="bold" text-anchor="middle">Linear</text>
<text x="1204" y="488.5" font-size="4.5" font-weight="bold" text-anchor="middle">SSM</text>
<text x="1178" y="472" font-size="4.8" font-style="italic">C<tspan font-size="3.5">Q</tspan></text><text x="1209" y="472" font-size="4.8" font-style="italic">B<tspan font-size="3.5">R</tspan> Δ<tspan font-size="3.5">R</tspan></text>
<text x="1201" y="504" font-size="5" font-style="italic">X̄</text>
<text transform="translate(1156,485) rotate(-90)" font-size="5" font-weight="bold">Cross Mamba</text>
<text transform="translate(990,528) rotate(-90)" font-size="4">Conv 3x3</text><text transform="translate(1010,530) rotate(-90)" font-size="4">LeakyReLU</text><text transform="translate(1030,528) rotate(-90)" font-size="4">Conv 3x3</text>
<text transform="translate(1040,445) rotate(-90)" font-size="4.5">optical offset</text>
</g>
<text x="1115" y="558" class="s" font-size="11.5" font-weight="bold" fill="#111" text-anchor="middle" word-spacing="3">iii) Deformable Cross-mamba Alignment</text>

<!-- EXPERIMENTAL RESULTS -->
<text x="760" y="619" class="s" font-size="20" font-weight="bold" fill="#e03a3a" text-anchor="middle">Experimental Results</text>
<rect x="316" y="636" width="460" height="260" fill="#fff" stroke="#80e0e8" stroke-width="2.5"/>
<rect x="785" y="636" width="465" height="260" fill="#fff" stroke="#80e0e8" stroke-width="2.5"/>
<g stroke="#222" fill="none">
<path d="M322,642H770" stroke-width="1.6"/><path d="M322,683H770" stroke-width="1"/><path d="M322,785.5H770M322,788H770" stroke-width="0.7"/><path d="M322,891H770" stroke-width="1.6"/>
<path d="M424,648V782M470,648V782M522.5,648V782M524.5,648V782M607,648V782M689,648V782" stroke-width="0.5"/>
<path d="M424,791V887M470,791V887M522.5,791V887M524.5,791V887M607,791V887M689,791V887" stroke-width="0.5"/>
</g>
<g class="s" font-size="12" fill="#111" text-anchor="middle" font-style="italic">
<text x="345" y="666">Method</text><text x="447" y="666">Frames</text><text x="495" y="657">#Params</text><text x="495" y="674">(M)</text>
<text x="565" y="657">REDS4</text><text x="648" y="657">Vimeo-90K-T</text><text x="730" y="657">Vid4</text>
<text x="544" y="674">PSNR</text><text x="585" y="674">SSIM</text><text x="627" y="674">PSNR</text><text x="668" y="674">SSIM</text><text x="710" y="674">PSNR</text><text x="751" y="674">SSIM</text>
</g>
<g class="s" font-size="12" fill="#111">
<g><text x="328" y="697">EDVR <tspan fill="#2f5fbf">[54]</tspan></text><text x="328" y="713">VSR-T <tspan fill="#2f5fbf">[2]</tspan></text><text x="328" y="730">VRT <tspan fill="#2f5fbf">[33]</tspan></text><text x="328" y="746">PSRT-recurrent <tspan fill="#2f5fbf">[46]</tspan></text><text x="328" y="763">IART <tspan fill="#2f5fbf">[56]</tspan></text><text x="328" y="779">VSRM (ours)</text>
<text x="328" y="803">BasicVSR++ <tspan fill="#2f5fbf">[5]</tspan></text><text x="328" y="819">VRT <tspan fill="#2f5fbf">[33]</tspan></text><text x="328" y="835">RVRT <tspan fill="#2f5fbf">[32]</tspan></text><text x="328" y="851">PSRT-recurrent <tspan fill="#2f5fbf">[46]</tspan></text><text x="328" y="868">IART <tspan fill="#2f5fbf">[56]</tspan></text><text x="328" y="884">VSRM (ours)</text></g>
<g text-anchor="middle">
<text x="447" y="697">5/7</text><text x="495" y="697">20.6</text><text x="544" y="697">31.09</text><text x="585" y="697">0.8800</text><text x="627" y="697">37.61</text><text x="668" y="697">0.9489</text><text x="710" y="697">27.35</text><text x="751" y="697">0.8264</text>
<text x="447" y="713">5/7</text><text x="495" y="713">32.6</text><text x="544" y="713">31.19</text><text x="585" y="713">0.8815</text><text x="627" y="713">37.71</text><text x="668" y="713">0.9494</text><text x="710" y="713">27.36</text><text x="751" y="713">0.8258</text>
<text x="447" y="730">6/-</text><text x="495" y="730">30.7</text><text x="544" y="730">31.60</text><text x="585" y="730">0.8888</text><text x="627" y="730">-</text><text x="668" y="730">-</text><text x="710" y="730">-</text><text x="751" y="730">-</text>
<text x="447" y="746">6/-</text><text x="495" y="746">10.8</text><text x="544" y="746">31.88</text><text x="585" y="746">0.8964</text><text x="627" y="746">-</text><text x="668" y="746">-</text><text x="710" y="746">-</text><text x="751" y="746">-</text>
<text x="447" y="763">6/-</text><text x="495" y="763">13.4</text><text x="544" y="763" text-decoration="underline">32.15</text><text x="585" y="763" text-decoration="underline">0.9010</text><text x="627" y="763">-</text><text x="668" y="763">-</text><text x="710" y="763">-</text><text x="751" y="763">-</text>
<text x="447" y="779">6/-</text><text x="495" y="779">17.1</text><text x="544" y="779" font-weight="bold">32.43</text><text x="585" y="779" font-weight="bold">0.9059</text><text x="627" y="779">-</text><text x="668" y="779">-</text><text x="710" y="779">-</text><text x="751" y="779">-</text>
<text x="447" y="803">30/14</text><text x="495" y="803">7.3</text><text x="544" y="803">32.39</text><text x="585" y="803">0.9069</text><text x="627" y="803">37.79</text><text x="668" y="803">0.9500</text><text x="710" y="803">27.79</text><text x="751" y="803">0.8400</text>
<text x="447" y="819">16/7</text><text x="495" y="819">35.6</text><text x="544" y="819">32.19</text><text x="585" y="819">0.9006</text><text x="627" y="819">38.20</text><text x="668" y="819">0.9530</text><text x="710" y="819">27.93</text><text x="751" y="819">0.8425</text>
<text x="447" y="835">30/14</text><text x="495" y="835">10.8</text><text x="544" y="835">32.75</text><text x="585" y="835">0.9113</text><text x="627" y="835">38.15</text><text x="668" y="835">0.9527</text><text x="710" y="835">27.99</text><text x="751" y="835">0.8462</text>
<text x="447" y="851">16/14</text><text x="495" y="851">13.4</text><text x="544" y="851">32.72</text><text x="585" y="851">0.9106</text><text x="627" y="851" text-decoration="underline">38.27</text><text x="668" y="851" text-decoration="underline">0.9536</text><text x="710" y="851">28.07</text><text x="751" y="851">0.8485</text>
<text x="447" y="868">16/7</text><text x="495" y="868">13.4</text><text x="544" y="868" text-decoration="underline">32.90</text><text x="585" y="868" text-decoration="underline">0.9138</text><text x="627" y="868">38.14</text><text x="668" y="868">0.9528</text><text x="710" y="868" text-decoration="underline">28.26</text><text x="751" y="868" text-decoration="underline">0.8517</text>
<text x="447" y="884">16/7</text><text x="495" y="884">17.1</text><g font-weight="bold"><text x="544" y="884">33.11</text><text x="585" y="884">0.9162</text><text x="627" y="884">38.33</text><text x="668" y="884">0.9543</text><text x="710" y="884">28.44</text><text x="751" y="884">0.8552</text></g>
</g>
</g>

<!-- images panel -->
<rect x="790" y="642" width="193" height="118" fill="url(#sky1)"/>
<path d="M790,690 Q820,660 850,680 Q880,665 910,690 L940,660 Q965,640 983,650 L983,720 L790,720z" fill="#3f7a30"/>
<polygon points="790,712 983,700 983,760 790,760" fill="#8a8a8a"/>
<polygon points="905,760 970,700 983,700 983,760" fill="#b06a4c"/>
<rect x="925" y="690" width="20" height="14" fill="#3aa048"/>
<ellipse cx="875" cy="718" rx="22" ry="11" fill="#eee"/>
<ellipse cx="810" cy="735" rx="30" ry="20" fill="#444"/>
<path d="M850,735L870,745L895,728" stroke="#2a7ae0" stroke-width="2.5" fill="none"/>
<rect x="870" y="720" width="8" height="8" fill="none" stroke="#e00" stroke-width="0.8"/>
<rect x="790" y="769" width="193" height="117" fill="#3d4858"/>
<polygon points="790,835 983,825 983,886 790,886" fill="#9c8a8c"/>
<g fill="#1e1e24"><rect x="868" y="790" width="22" height="80" rx="6"/><rect x="838" y="815" width="16" height="50" rx="5"/><rect x="820" y="825" width="14" height="40" rx="5"/><rect x="940" y="800" width="18" height="70" rx="5"/></g>
<g fill="#d8d8dc"><rect x="900" y="805" width="35" height="55" rx="6" opacity="0.8"/><rect x="896" y="815" width="12" height="30" rx="4"/></g>
<rect x="960" y="810" width="14" height="40" fill="#c03030"/>
<rect x="851" y="850" width="12" height="14" fill="none" stroke="#e00" stroke-width="0.8"/>
<g class="a" font-size="4.8" fill="#222" text-anchor="middle"><text x="886" y="767">Frame 026, Clip 000, REDS4</text><text x="886" y="894">Frame 037, Clip Walk, Vid4</text>
<text x="1027" y="702">Nearest</text><text x="1115" y="702">VRT</text><text x="1203" y="702">PSRT-recurrent</text>
<text x="1027" y="767">IART</text><text x="1115" y="767">VSRM (ours)</text><text x="1203" y="767">GT</text>
<text x="1027" y="830">Nearest</text><text x="1115" y="830">VRT</text><text x="1203" y="830">PSRT-recurrent</text>
<text x="1027" y="894">IART</text><text x="1115" y="894">VSRM (ours)</text><text x="1203" y="894">GT</text></g>
<rect x="993" y="642" width="69" height="55" fill="url(#plt)"/><rect x="1081" y="642" width="69" height="55" fill="url(#plt)"/><rect x="1169" y="642" width="69" height="55" fill="url(#plt)"/>
<rect x="993" y="705" width="69" height="54" fill="url(#plt)"/><rect x="1081" y="705" width="69" height="54" fill="url(#plt)"/><rect x="1169" y="705" width="69" height="54" fill="url(#plt)"/>
<g fill="#2e8a72">
<rect x="997" y="655" width="50" height="22"/><polygon points="1090,655 1145,660 1145,680 1086,672"/><polygon points="1178,655 1233,660 1233,680 1174,672"/>
<polygon points="1002,720 1056,725 1056,745 998,738"/><polygon points="1090,720 1145,725 1145,745 1086,738"/><polygon points="1178,720 1233,725 1233,745 1174,738"/>
</g>
<g fill="#6a82c8">
<rect x="993" y="769" width="69" height="55"/><rect x="1081" y="769" width="69" height="55"/><rect x="1169" y="769" width="69" height="55"/>
<rect x="993" y="833" width="69" height="53"/><rect x="1081" y="833" width="69" height="53"/><rect x="1169" y="833" width="69" height="53"/>
</g>
<g fill="#c03040"><ellipse cx="1030" cy="790" rx="7" ry="10"/><ellipse cx="1118" cy="790" rx="8" ry="11"/><ellipse cx="1206" cy="790" rx="8" ry="11"/><ellipse cx="1030" cy="855" rx="8" ry="11"/><ellipse cx="1118" cy="855" rx="8" ry="11"/><ellipse cx="1206" cy="855" rx="8" ry="11"/></g>
<g fill="#a0a050" opacity="0.8"><polygon points="1030,815 1050,800 1045,824 1025,824"/><polygon points="1118,815 1140,800 1135,824 1113,824"/><polygon points="1206,815 1228,800 1223,824 1201,824"/><polygon points="1030,880 1050,865 1045,886 1025,886"/><polygon points="1118,880 1140,865 1135,886 1113,886"/><polygon points="1206,880 1228,865 1223,886 1201,886"/></g>
<g fill="#e8e8f0" opacity="0.6"><rect x="993" y="769" width="12" height="55"/><rect x="1081" y="769" width="10" height="55"/><rect x="1169" y="769" width="10" height="55"/><rect x="993" y="833" width="10" height="53"/><rect x="1081" y="833" width="10" height="53"/><rect x="1169" y="833" width="10" height="53"/></g>
</svg>

<div class="col" style="left:32px;top:179.4px;width:266px">
<div class="j"><b>Video Super-Resolution</b> (VSR):</div>
<div class="j">aims to produce higher resolution</div>
<div>from low-resolution videos.</div>
<div class="j"><b>Mamba architecture:</b> a sequence</div>
<div class="j">modeling framework that replaces</div>
<div class="j">traditional attention with state-</div>
<div class="j">space models (SSMs) for efficient</div>
<div>long-context learning</div>
</div>

<div class="col" style="left:57px;top:427.4px;width:241px">
<div class="j"><span class="n">1.</span>Small-sized receptive field <span class="red">→</span></div>
<div class="j">Extracted features are <b>too local</b>.</div>
<div class="j"><span class="n">2.</span>Parameters fixed across the</div>
<div class="j">whole image <span class="red">→</span> Contents are</div>
<div><b>equally treated</b>.</div>
<div class="j"><span class="n">3.</span>Lack of flexible and relational</div>
<div class="j">modeling <span class="red">→</span> Missing <b>complex</b></div>
<div><b>relations and layouts</b>.</div>
</div>

<div class="col" style="left:57px;top:650.4px;width:241px">
<div><span class="n">1.</span>Global feature extraction</div>
<div><span class="n">2.</span>Accurate feature extraction.</div>
</div>

<div class="col" style="left:1298px;top:171.4px;width:242px">
<div class="j"><span class="n">1.</span>Current approachs still use local</div>
<div class="j">modeling with limited receptive</div>
<div>field</div>
<div class="j"><span class="n">2.</span>VSR produce SR videos with</div>
<div class="j"><b>long-dependency</b> constructed</div>
<div class="j">among different regions/frames</div>
<div class="j"><span class="red">→</span> Non-local feature extraction</div>
<div>for global modeling</div>
</div>

<div class="col" style="left:1301px;top:617.4px;width:239px">
<div class="j"><span class="n" style="left:-31px">1.</span>We propose a novel VSRM</div>
<div class="j">framework based on the</div>
<div class="j">Mamba for VSR. We propose</div>
<div class="j">Spatialto-Temporal Mamba and</div>
<div class="j">Temporal-to-Spatial Mamba</div>
<div class="j">blocks to capture long-range</div>
<div>information efficiently.</div>
<div class="j"><span class="n" style="left:-31px">2.</span>Extensive experiments reveal</div>
<div class="j">that VSRM extract the non-local</div>
<div class="j">information efficiently, and the</div>
<div class="j">superior performance in many</div>
<div class="j">datasets verifies the high</div>
<div class="j">generalization capability of our</div>
<div>proposed method.</div>
</div>
</div></body></html>
